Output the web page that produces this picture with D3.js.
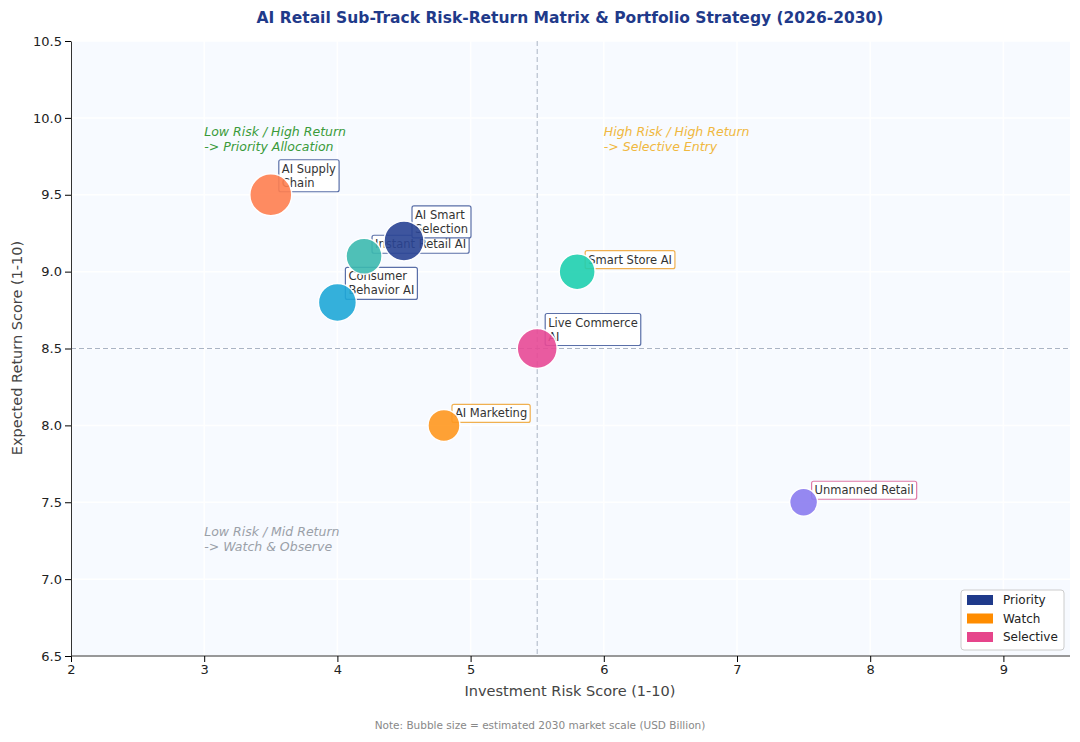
<!DOCTYPE html>
<html><head><meta charset="utf-8">
<script src="https://cdn.jsdelivr.net/npm/d3@7"></script>
<style>body{margin:0;background:#fff;font-family:"DejaVu Sans",sans-serif}</style>
</head><body>
<script>
// data
var names = ['AI Supply\nChain', 'Instant Retail AI', 'AI Smart\nSelection', 'Consumer\nBehavior AI', 'Smart Store AI', 'Live Commerce\nAI', 'AI Marketing', 'Unmanned Retail'];
var risk = [3.5, 4.2, 4.5, 4.0, 5.8, 5.5, 4.8, 7.5];
var ret = [9.5, 9.1, 9.2, 8.8, 9.0, 8.5, 8.0, 7.5];
var radius = [21, 18, 20, 19, 18, 20, 16, 14];
var strategy = ['Priority', 'Priority', 'Priority', 'Priority', 'Watch', 'Priority', 'Watch', 'Selective'];
var colors = ['#ff7f50', '#3dbab0', '#2a4494', '#1fa8d8', '#20d0b0', '#e84a96', '#ff9820', '#8b7cf0'];
var strategies = ['Priority', 'Watch', 'Selective'];
var stratColors = ['#1f3a8a', '#ff8c00', '#e6458b'];
var borderColors = ['#5a6fa8', '#f0b050', '#e07aa8'];
var xTicks = [2, 3, 4, 5, 6, 7, 8, 9];
var yTicks = [6.5, 7.0, 7.5, 8.0, 8.5, 9.0, 9.5, 10.0, 10.5];

var width = 1080, height = 742;
var svg = d3.select('body').append('svg').attr('width', width).attr('height', height);

var x = d3.scaleLinear().domain([2, 9.5]).range([71, 1070]);
var y = d3.scaleLinear().domain([6.5, 10.5]).range([656, 41]);

svg.append('rect').attr('x', 71).attr('y', 41).attr('width', 999).attr('height', 615).attr('fill', '#f7faff');

// grid
svg.selectAll('.gx').data(xTicks).enter().append('line')
  .attr('x1', d => x(d)).attr('x2', d => x(d)).attr('y1', 41).attr('y2', 656)
  .attr('stroke', '#fff').attr('stroke-width', 1.5);
svg.selectAll('.gy').data(yTicks).enter().append('line')
  .attr('y1', d => y(d)).attr('y2', d => y(d)).attr('x1', 71).attr('x2', 1070)
  .attr('stroke', '#fff').attr('stroke-width', 1.5);

// quadrant lines
svg.append('line').attr('x1', x(5.5)).attr('x2', x(5.5)).attr('y1', 41).attr('y2', 656)
  .attr('stroke', '#aab4c4').attr('stroke-dasharray', '5,3');
svg.append('line').attr('x1', 71).attr('x2', 1070).attr('y1', y(8.5)).attr('y2', y(8.5))
  .attr('stroke', '#aab4c4').attr('stroke-dasharray', '5,3');

// axes
var xAxis = svg.append('g').attr('transform', 'translate(0,656)')
  .call(d3.axisBottom(x).tickValues(xTicks).tickFormat(d3.format('d')).tickSizeOuter(0));
var yAxis = svg.append('g').attr('transform', 'translate(71,0)')
  .call(d3.axisLeft(y).tickValues(yTicks).tickFormat(d3.format('.1f')).tickSizeOuter(0));
[xAxis, yAxis].forEach(function(a) {
  a.selectAll('text').attr('font-size', 13).attr('fill', '#222').attr('font-family', 'DejaVu Sans');
  a.select('.domain').attr('stroke', '#333');
});
xAxis.select('.domain').attr('d', 'M71,0H1070');

// quadrant notes
var notes = [
  {t: ['Low Risk / High Return', '-> Priority Allocation'], x: 3, y: 9.88, c: '#3a9a3a'},
  {t: ['High Risk / High Return', '-> Selective Entry'], x: 6, y: 9.88, c: '#f0b840'},
  {t: ['Low Risk / Mid Return', '-> Watch & Observe'], x: 3, y: 7.28, c: '#9aa0a8'}
];
notes.forEach(function(n) {
  var t = svg.append('text').attr('x', x(n.x)).attr('y', y(n.y)).attr('fill', n.c)
    .attr('font-size', 12.5).attr('font-style', 'italic');
  n.t.forEach(function(s, i) { t.append('tspan').attr('x', x(n.x)).attr('dy', i ? 15 : 0).text(s); });
});

// labels (below bubbles)
names.forEach(function(nm, i) {
  var lines = nm.split('\n');
  var cx = x(risk[i]), cy = y(ret[i]);
  var lx = cx + 11, bottom = cy - 3;
  var g = svg.append('g');
  var t = g.append('text').attr('font-size', 11.5).attr('fill', '#333');
  lines.forEach(function(s, k) {
    t.append('tspan').attr('x', lx).attr('y', bottom - 5 - (lines.length - 1 - k) * 14).text(s);
  });
  var bb = t.node().getBBox();
  g.insert('rect', 'text').attr('x', bb.x - 3).attr('y', bb.y - 2)
    .attr('width', bb.width + 6).attr('height', bb.height + 4).attr('rx', 2)
    .attr('fill', '#fff').attr('stroke', borderColors[strategies.indexOf(strategy[i])]).attr('stroke-width', 1.2);
});

// bubbles
svg.selectAll('.b').data(risk).enter().append('circle')
  .attr('cx', d => x(d)).attr('cy', (d, i) => y(ret[i])).attr('r', (d, i) => radius[i])
  .attr('fill', (d, i) => colors[i]).attr('opacity', 0.9).attr('stroke', '#fff').attr('stroke-width', 1.5);

// legend
var lg = svg.append('g').attr('transform', 'translate(961,590)');
lg.append('rect').attr('width', 103).attr('height', 60).attr('rx', 3).attr('fill', '#fff').attr('stroke', '#ccc');
strategies.forEach(function(s, i) {
  lg.append('rect').attr('x', 6).attr('y', 5 + i * 18.5).attr('width', 26).attr('height', 10).attr('fill', stratColors[i]);
  lg.append('text').attr('x', 42).attr('y', 14 + i * 18.5).attr('font-size', 12).attr('fill', '#222').text(s);
});

// titles
svg.append('text').attr('x', 570).attr('y', 23).attr('text-anchor', 'middle').attr('font-size', 15.5)
  .attr('font-weight', 'bold').attr('fill', '#1f3a8a').text('AI Retail Sub-Track Risk-Return Matrix & Portfolio Strategy (2026-2030)');
svg.append('text').attr('x', 570).attr('y', 696).attr('text-anchor', 'middle').attr('font-size', 14.5)
  .attr('fill', '#444').text('Investment Risk Score (1-10)');
svg.append('text').attr('transform', 'translate(22,348) rotate(-90)').attr('text-anchor', 'middle')
  .attr('font-size', 14.5).attr('fill', '#444').text('Expected Return Score (1-10)');
svg.append('text').attr('x', 540).attr('y', 729).attr('text-anchor', 'middle').attr('font-size', 10.5)
  .attr('fill', '#888').text('Note: Bubble size = estimated 2030 market scale (USD Billion)');
</script>
</body></html>
